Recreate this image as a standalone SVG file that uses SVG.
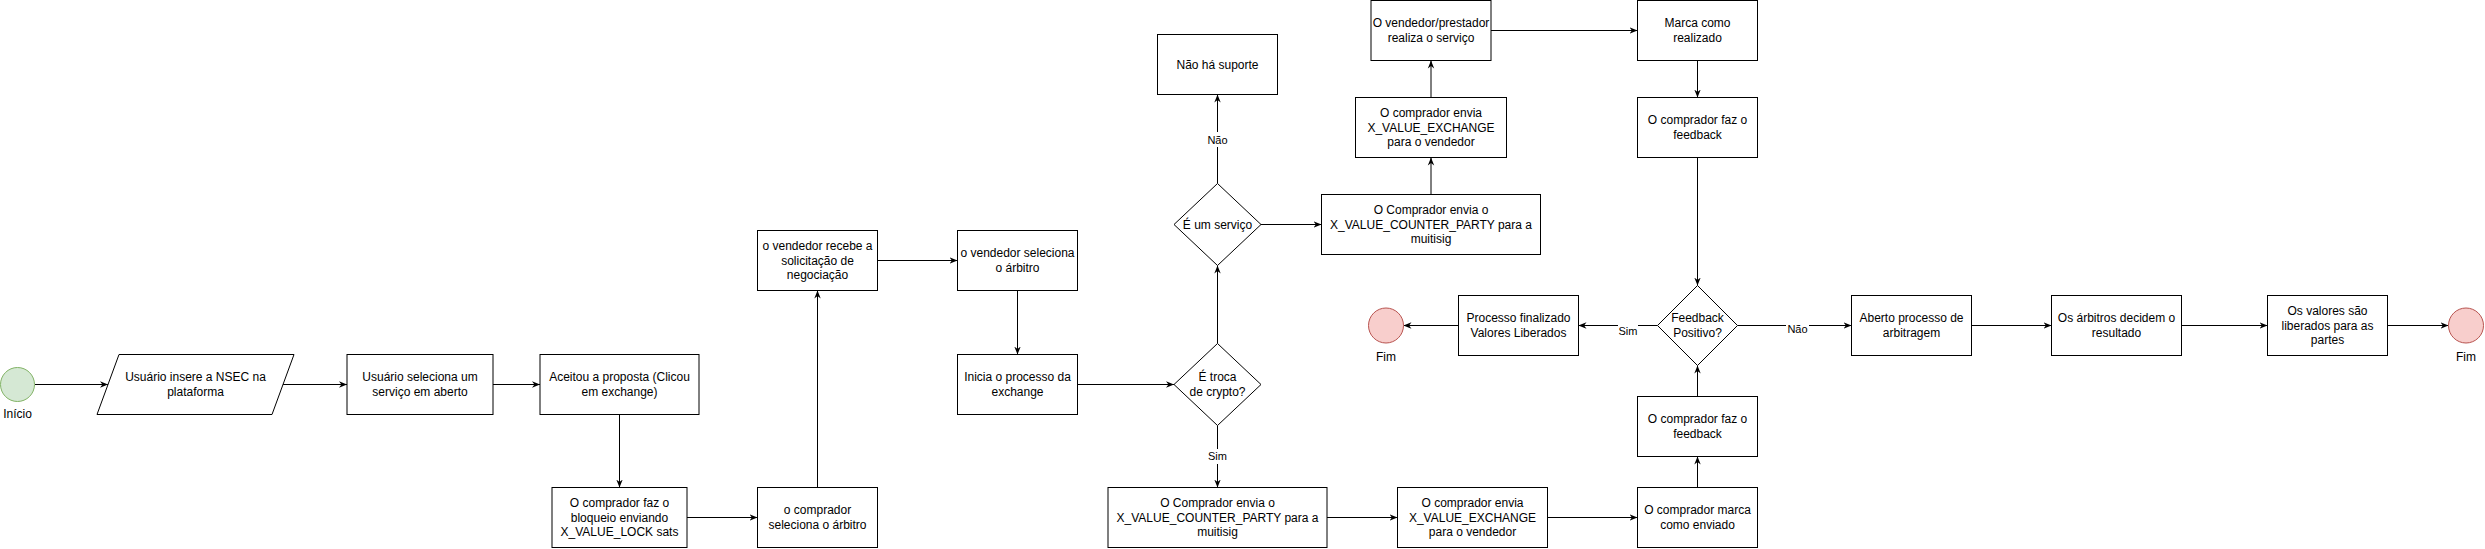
<svg xmlns="http://www.w3.org/2000/svg" width="2485" height="549" viewBox="0 0 2485 549">
<style>
  .box{fill:#fff;stroke:#000;stroke-width:1}
  .t{font-family:"Liberation Sans",Arial,sans-serif;font-size:12px;fill:#000;text-anchor:middle;dominant-baseline:central}
  .lbl{font-family:"Liberation Sans",Arial,sans-serif;font-size:11px;fill:#000;text-anchor:middle;dominant-baseline:central}
  .edge{fill:none;stroke:#000;stroke-width:1;marker-end:url(#arr)}
  .start{fill:#d5e8d4;stroke:#82b366;stroke-width:1}
  .end{fill:#f8cecc;stroke:#b85450;stroke-width:1}
</style>
<defs>
  <marker id="arr" viewBox="0 0 10 10" refX="10" refY="5" markerWidth="8" markerHeight="8" markerUnits="userSpaceOnUse" orient="auto">
    <path d="M0,1 L10,5 L0,9 L3,5 z" fill="#000"/>
  </marker>
</defs>
<rect width="2485" height="549" fill="#fff"/>

<g id="connectors">
  <path class="edge" d="M35,384.5 L108,384.5"/>
  <path class="edge" d="M283,384.5 L347,384.5"/>
  <path class="edge" d="M493,384.5 L540,384.5"/>
  <path class="edge" d="M619.5,414.5 L619.5,487.5"/>
  <path class="edge" d="M687,517.5 L757.5,517.5"/>
  <path class="edge" d="M817.5,487.5 L817.5,290.5"/>
  <path class="edge" d="M877.5,260.5 L957.5,260.5"/>
  <path class="edge" d="M1017.5,290.5 L1017.5,354.5"/>
  <path class="edge" d="M1077.5,384.5 L1174,384.5"/>
  <path class="edge" d="M1217.5,343.5 L1217.5,265.5"/>
  <path class="edge" d="M1217.5,183.5 L1217.5,94.5"/>
  <path class="edge" d="M1261,224.5 L1321.5,224.5"/>
  <path class="edge" d="M1431,194.5 L1431,157.5"/>
  <path class="edge" d="M1431,97.5 L1431,60.5"/>
  <path class="edge" d="M1491,30.5 L1637.5,30.5"/>
  <path class="edge" d="M1697.5,60.5 L1697.5,97.5"/>
  <path class="edge" d="M1697.5,157.5 L1697.5,285.5"/>
  <path class="edge" d="M1657.5,325.5 L1578.5,325.5"/>
  <path class="edge" d="M1458.5,325.5 L1403.5,325.5"/>
  <path class="edge" d="M1737.5,325.5 L1851.5,325.5"/>
  <path class="edge" d="M1971.5,325.5 L2051.5,325.5"/>
  <path class="edge" d="M2181.5,325.5 L2267.5,325.5"/>
  <path class="edge" d="M2387.5,325.5 L2448.5,325.5"/>
  <path class="edge" d="M1217.5,425.5 L1217.5,487.5"/>
  <path class="edge" d="M1327,517.5 L1397.5,517.5"/>
  <path class="edge" d="M1547.5,517.5 L1637.5,517.5"/>
  <path class="edge" d="M1697.5,487.5 L1697.5,456.5"/>
  <path class="edge" d="M1697.5,396.5 L1697.5,365.5"/>
  <g id="edge-labels">
    <rect x="1206" y="132" width="23" height="15" fill="#fff"/>
    <text class="lbl" x="1217.5" y="140">Não</text>
    <rect x="1207" y="449" width="21" height="15" fill="#fff"/>
    <text class="lbl" x="1217.5" y="456">Sim</text>
    <rect x="1618" y="324" width="20" height="14" fill="#fff"/>
    <text class="lbl" x="1628" y="331">Sim</text>
    <rect x="1786" y="322" width="23" height="14" fill="#fff"/>
    <text class="lbl" x="1797.5" y="329">Não</text>
  </g>
</g>

<g id="inicio">
  <circle class="start" cx="17.5" cy="384.5" r="17"/>
  <text class="t" x="17.5" y="414">Início</text>
</g>
<g id="n-insere">
  <polygon class="box" points="119,354.5 294,354.5 272,414.5 97,414.5"/>
  <text class="t" x="195.5" y="377.3">Usuário insere a NSEC na</text>
  <text class="t" x="195.5" y="391.7">plataforma</text>
</g>
<g id="n-seleciona">
  <rect class="box" x="347" y="354.5" width="146" height="60"/>
  <text class="t" x="420" y="377.3">Usuário seleciona um</text>
  <text class="t" x="420" y="391.7">serviço em aberto</text>
</g>
<g id="n-aceitou">
  <rect class="box" x="540" y="354.5" width="159" height="60"/>
  <text class="t" x="619.5" y="377.3">Aceitou a proposta (Clicou</text>
  <text class="t" x="619.5" y="391.7">em exchange)</text>
</g>
<g id="n-bloqueio">
  <rect class="box" x="552" y="487.5" width="135" height="60"/>
  <text class="t" x="619.5" y="503.1">O comprador faz o</text>
  <text class="t" x="619.5" y="517.5">bloqueio enviando</text>
  <text class="t" x="619.5" y="531.9">X_VALUE_LOCK sats</text>
</g>
<g id="n-comprador-arbitro">
  <rect class="box" x="757.5" y="487.5" width="120" height="60"/>
  <text class="t" x="817.5" y="510.3">o comprador</text>
  <text class="t" x="817.5" y="524.7">seleciona o árbitro</text>
</g>
<g id="n-vendedor-recebe">
  <rect class="box" x="757.5" y="230.5" width="120" height="60"/>
  <text class="t" x="817.5" y="246.1">o vendedor recebe a</text>
  <text class="t" x="817.5" y="260.5">solicitação de</text>
  <text class="t" x="817.5" y="274.9">negociação</text>
</g>
<g id="n-vendedor-arbitro">
  <rect class="box" x="957.5" y="230.5" width="120" height="60"/>
  <text class="t" x="1017.5" y="253.3">o vendedor seleciona</text>
  <text class="t" x="1017.5" y="267.7">o árbitro</text>
</g>
<g id="n-inicia">
  <rect class="box" x="957.5" y="354.5" width="120" height="60"/>
  <text class="t" x="1017.5" y="377.3">Inicia o processo da</text>
  <text class="t" x="1017.5" y="391.7">exchange</text>
</g>
<g id="d-troca">
  <polygon class="box" points="1217.5,343.5 1261,384.5 1217.5,425.5 1174,384.5"/>
  <text class="t" x="1217.5" y="377.3">É troca</text>
  <text class="t" x="1217.5" y="391.7">de crypto?</text>
</g>
<g id="d-servico">
  <polygon class="box" points="1217.5,183.5 1261,224.5 1217.5,265.5 1174,224.5"/>
  <text class="t" x="1217.5" y="224.5">É um serviço</text>
</g>
<g id="n-suporte">
  <rect class="box" x="1157.5" y="34.5" width="120" height="60"/>
  <text class="t" x="1217.5" y="64.5">Não há suporte</text>
</g>
<g id="n-cp-up">
  <rect class="box" x="1321.5" y="194.5" width="219" height="60"/>
  <text class="t" x="1431" y="210.1">O Comprador envia o</text>
  <text class="t" x="1431" y="224.5">X_VALUE_COUNTER_PARTY para a</text>
  <text class="t" x="1431" y="238.9">muitisig</text>
</g>
<g id="n-ex-up">
  <rect class="box" x="1355.5" y="97.5" width="151" height="60"/>
  <text class="t" x="1431" y="113.1">O comprador envia</text>
  <text class="t" x="1431" y="127.5">X_VALUE_EXCHANGE</text>
  <text class="t" x="1431" y="141.9">para o vendedor</text>
</g>
<g id="n-realiza">
  <rect class="box" x="1371" y="0.5" width="120" height="60"/>
  <text class="t" x="1431" y="23.3">O vendedor/prestador</text>
  <text class="t" x="1431" y="37.7">realiza o serviço</text>
</g>
<g id="n-marca">
  <rect class="box" x="1637.5" y="0.5" width="120" height="60"/>
  <text class="t" x="1697.5" y="23.3">Marca como</text>
  <text class="t" x="1697.5" y="37.7">realizado</text>
</g>
<g id="n-feedback-up">
  <rect class="box" x="1637.5" y="97.5" width="120" height="60"/>
  <text class="t" x="1697.5" y="120.3">O comprador faz o</text>
  <text class="t" x="1697.5" y="134.7">feedback</text>
</g>
<g id="d-feedback">
  <polygon class="box" points="1697.5,285.5 1737.5,325.5 1697.5,365.5 1657.5,325.5"/>
  <text class="t" x="1697.5" y="318.3">Feedback</text>
  <text class="t" x="1697.5" y="332.7">Positivo?</text>
</g>
<g id="n-finalizado">
  <rect class="box" x="1458.5" y="295.5" width="120" height="60"/>
  <text class="t" x="1518.5" y="318.3">Processo finalizado</text>
  <text class="t" x="1518.5" y="332.7">Valores Liberados</text>
</g>
<g id="fim-1">
  <circle class="end" cx="1386" cy="325.5" r="17.5"/>
  <text class="t" x="1386" y="357">Fim</text>
</g>
<g id="n-arbitragem">
  <rect class="box" x="1851.5" y="295.5" width="120" height="60"/>
  <text class="t" x="1911.5" y="318.3">Aberto processo de</text>
  <text class="t" x="1911.5" y="332.7">arbitragem</text>
</g>
<g id="n-decidem">
  <rect class="box" x="2051.5" y="295.5" width="130" height="60"/>
  <text class="t" x="2116.5" y="318.3">Os árbitros decidem o</text>
  <text class="t" x="2116.5" y="332.7">resultado</text>
</g>
<g id="n-liberados">
  <rect class="box" x="2267.5" y="295.5" width="120" height="60"/>
  <text class="t" x="2327.5" y="311.1">Os valores são</text>
  <text class="t" x="2327.5" y="325.5">liberados para as</text>
  <text class="t" x="2327.5" y="339.9">partes</text>
</g>
<g id="fim-2">
  <circle class="end" cx="2466" cy="325.5" r="17.5"/>
  <text class="t" x="2466" y="357">Fim</text>
</g>
<g id="n-cp-low">
  <rect class="box" x="1108" y="487.5" width="219" height="60"/>
  <text class="t" x="1217.5" y="503.1">O Comprador envia o</text>
  <text class="t" x="1217.5" y="517.5">X_VALUE_COUNTER_PARTY para a</text>
  <text class="t" x="1217.5" y="531.9">muitisig</text>
</g>
<g id="n-ex-low">
  <rect class="box" x="1397.5" y="487.5" width="150" height="60"/>
  <text class="t" x="1472.5" y="503.1">O comprador envia</text>
  <text class="t" x="1472.5" y="517.5">X_VALUE_EXCHANGE</text>
  <text class="t" x="1472.5" y="531.9">para o vendedor</text>
</g>
<g id="n-enviado">
  <rect class="box" x="1637.5" y="487.5" width="120" height="60"/>
  <text class="t" x="1697.5" y="510.3">O comprador marca</text>
  <text class="t" x="1697.5" y="524.7">como enviado</text>
</g>
<g id="n-feedback-low">
  <rect class="box" x="1637.5" y="396.5" width="120" height="60"/>
  <text class="t" x="1697.5" y="419.3">O comprador faz o</text>
  <text class="t" x="1697.5" y="433.7">feedback</text>
</g>
</svg>
